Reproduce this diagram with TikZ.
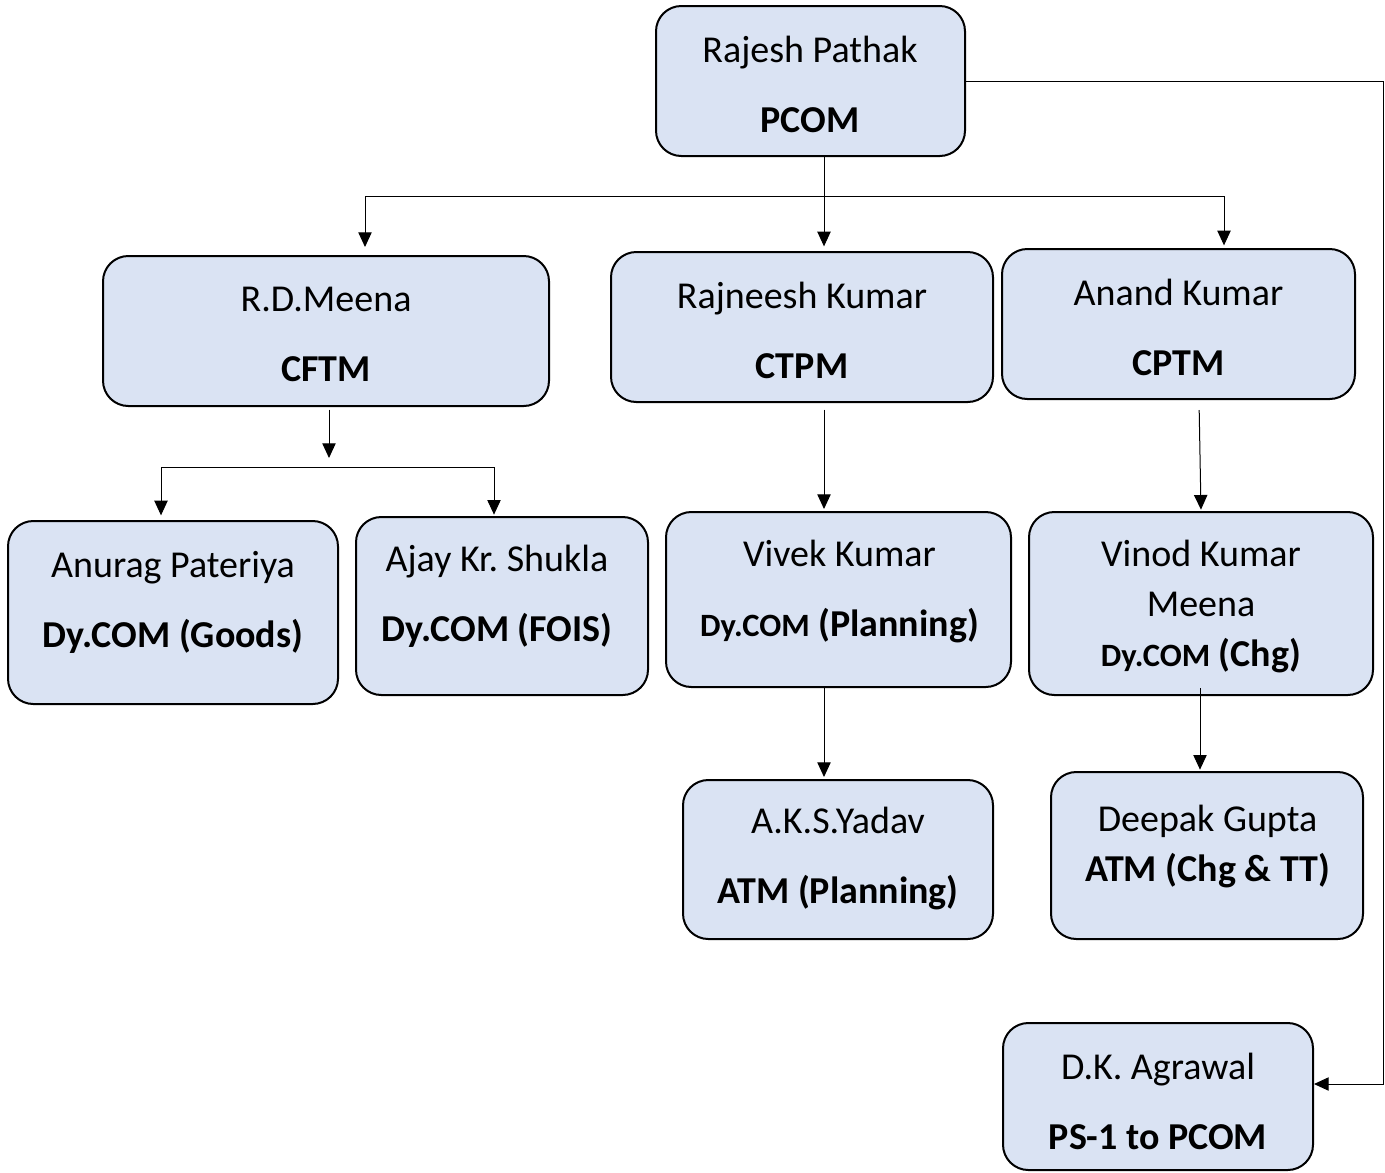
\documentclass[tikz,border=0pt]{standalone}
\usepackage{fontspec}
\setmainfont{Carlito}
\usetikzlibrary{arrows.meta}
\definecolor{boxfill}{HTML}{DAE3F3}
\frenchspacing
\tikzset{
  box/.style={draw=black, line width=1.5pt, fill=boxfill, rounded corners=19pt, inner sep=0pt},
  txt/.style={align=center, inner sep=0pt, font=\fontsize{28.5}{52.5}\selectfont},
  txtb/.style={align=center, inner sep=0pt, font=\fontsize{28.5}{37.5}\selectfont},
  link/.style={line width=0.75pt, draw=black},
  arr/.style={link, -{Triangle[length=11pt,width=10pt]}}
}
\newcommand{\smdy}{{\fontsize{24.4}{30}\selectfont\textbf{Dy.COM}}}
\begin{document}
\begin{tikzpicture}[x=0.75pt,y=-0.75pt]
\useasboundingbox (0,0) rectangle (1385,1172);
% boxes
\node[box, minimum width=231.75pt, minimum height=112.5pt] (pcom) at (810.5,81) {};
\node[box, minimum width=334.5pt, minimum height=112.5pt] (cftm) at (326,331) {};
\node[box, minimum width=286.5pt, minimum height=112.5pt] (ctpm) at (802,327) {};
\node[box, minimum width=264.75pt, minimum height=112.5pt] (cptm) at (1178.5,324) {};
\node[box, minimum width=247.5pt, minimum height=137.25pt] (anurag) at (173,612.5) {};
\node[box, minimum width=219pt, minimum height=133.5pt] (ajay) at (502,606) {};
\node[box, minimum width=258.75pt, minimum height=131.25pt] (vivek) at (838.5,599.5) {};
\node[box, minimum width=258pt, minimum height=137.25pt] (vinod) at (1201,603.5) {};
\node[box, minimum width=232.5pt, minimum height=119.25pt] (aks) at (838,859.5) {};
\node[box, minimum width=234pt, minimum height=125.25pt] (deepak) at (1207,855.5) {};
\node[box, minimum width=232.5pt, minimum height=110.25pt] (dk) at (1158,1096.5) {};
% texts
\node[txt] (pcomt) at (810,84) {Rajesh Pathak\\\textbf{PCOM}};
\node[txt] (cftmt) at (326,334.5) {R.D.Meena\\\textbf{CFTM}};
\node[txt] (ctpmt) at (802,330.5) {Rajneesh Kumar\\\textbf{CTPM}};
\node[txt] (cptmt) at (1178.5,327.5) {Anand Kumar\\\textbf{CPTM}};
\node[txt] (anuragt) at (173,602.5) {Anurag Pateriya\\\textbf{Dy.COM (Goods)}};
\node[txt] (ajayt) at (497,596.5) {Ajay Kr. Shukla\\\textbf{Dy.COM (FOIS)}};
\node[txt] (vivekt) at (839.5,591.5) {Vivek Kumar\\\smdy\ \textbf{(Planning)}};
\node[txtb] (vinodt) at (1201,606.5) {Vinod Kumar\\Meena\\\smdy\ \textbf{(Chg)}};
\node[txt] (akst) at (838,859) {A.K.S.Yadav\\\textbf{ATM (Planning)}};
\node[txtb] (deepakt) at (1207.5,846.5) {Deepak Gupta\\\textbf{ATM (Chg \& TT)}};
\node[txt] (dkt) at (1158,1101.5) {D.K. Agrawal\\\textbf{PS-1 to PCOM}};
% bus coordinates
\coordinate (busL) at (365,196);
\coordinate (busM) at (824,196);
\coordinate (busR) at (1224,196);
\coordinate (cdrop) at (329,458);
\coordinate (bus2L) at (161,467);
\coordinate (bus2R) at (494,467);
\coordinate (rtop) at (1383,81);
\coordinate (rbot) at (1383,1084);
% connectors
\draw[link] (pcom.south -| busM) -- (busM);
\draw[link] (busL) -- (busR);
\draw[arr, shorten >=6pt] (busL) -- (cftm.north -| busL);
\draw[arr, shorten >=3.5pt] (busM) -- (ctpm.north -| busM);
\draw[arr, shorten >=2pt] (busR) -- (cptm.north -| busR);
\draw[arr, shorten <=2pt] (cftm.south -| cdrop) -- (cdrop);
\draw[link] (bus2L) -- (bus2R);
\draw[arr, shorten >=3.5pt] (bus2L) -- (anurag.north -| bus2L);
\draw[arr, shorten >=1pt] (bus2R) -- (ajay.north -| bus2R);
\draw[arr, shorten <=5pt, shorten >=1.5pt] (ctpm.south -| busM) -- (vivek.north -| busM);
\draw[arr, shorten <=7.5pt, shorten >=1pt] ([xshift=-0.75pt]cptm.south) ++(21.5,0) coordinate (cpts) -- (vinod.north);
\draw[arr, shorten >=1.5pt] (vivek.south -| busM) -- (aks.north -| busM);
\draw[arr, shorten <=-6pt, shorten >=1pt] (vinod.south -| deepak.north) ++(-7,0) coordinate (vns) -- (deepak.north -| vns);
\draw[arr] (pcom.east) -- (rtop) -- (rbot) -- (dk.east |- rbot);
\end{tikzpicture}
\end{document}
